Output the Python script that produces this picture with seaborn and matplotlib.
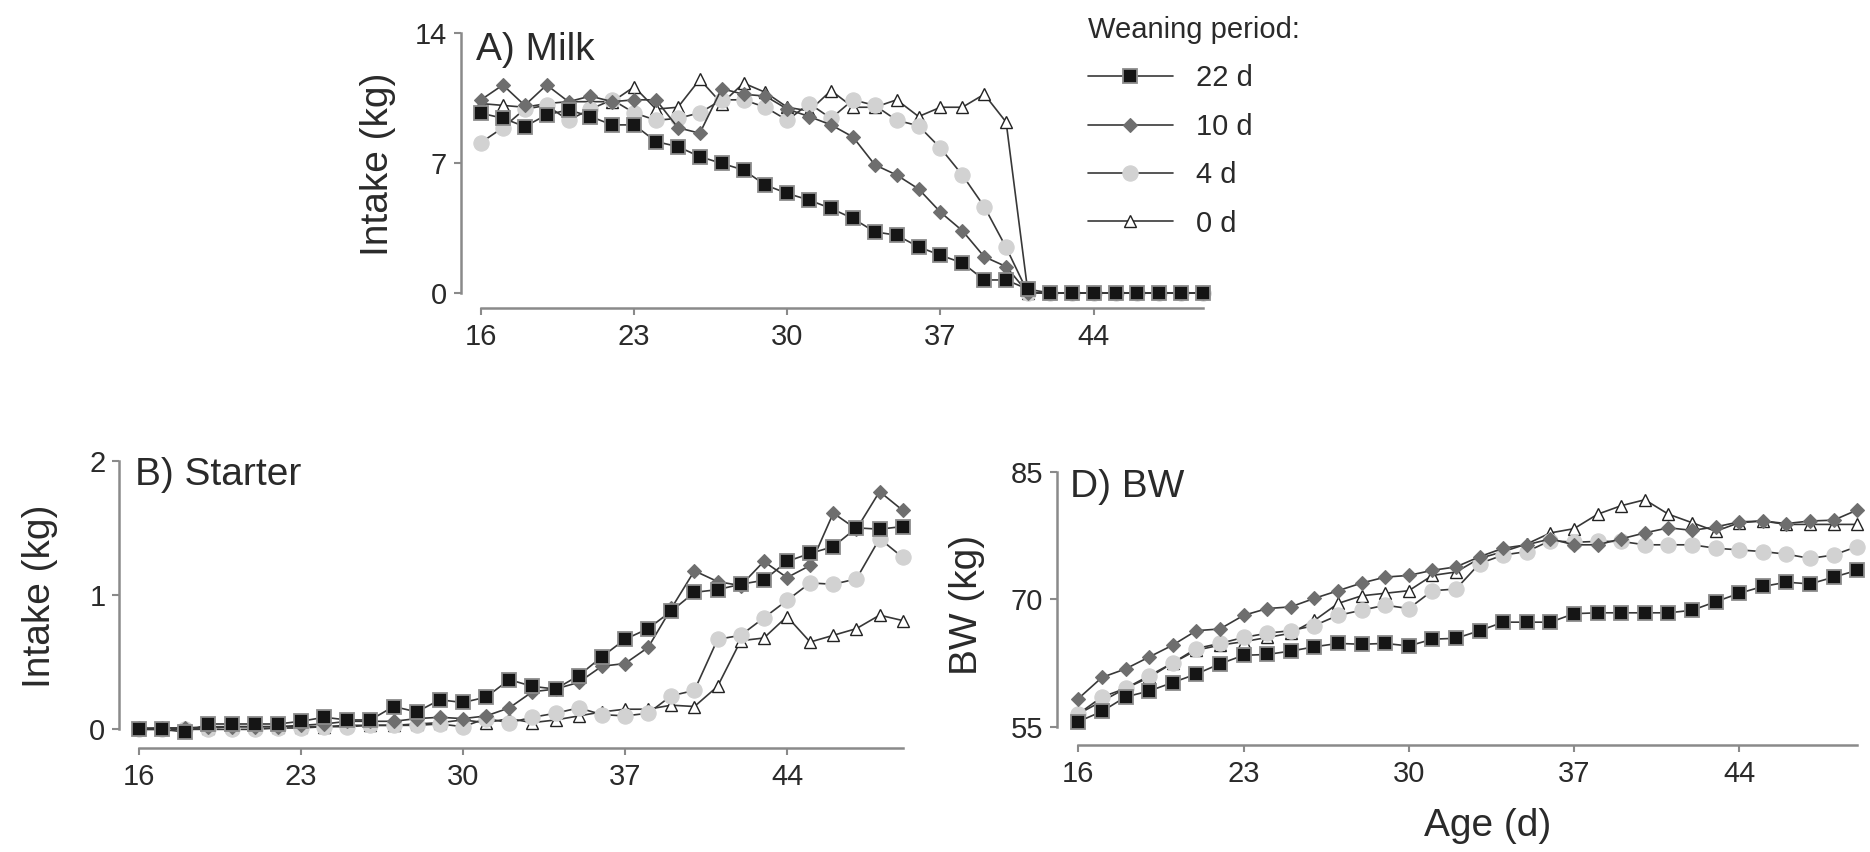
import numpy as np
import pandas as pd
import matplotlib
matplotlib.use("Agg")
import matplotlib.pyplot as plt
from matplotlib.lines import Line2D
import seaborn as sns

# ---------------- data ----------------
days = [16, 17, 18, 19, 20, 21, 22, 23, 24, 25, 26, 27, 28, 29, 30, 31, 32,
        33, 34, 35, 36, 37, 38, 39, 40, 41, 42, 43, 44, 45, 46, 47, 48, 49]
groups = ["22 d", "10 d", "4 d", "0 d"]
x_ticks = [16, 23, 30, 37, 44]

milk_22 = [9.68, 9.41, 8.96, 9.59, 9.86, 9.50, 9.05, 9.05, 8.15, 7.88, 7.34, 6.98,
           6.62, 5.81, 5.36, 5.00, 4.55, 4.01, 3.29, 3.11, 2.48, 2.03, 1.62, 0.70,
           0.70, 0.20, 0, 0, 0, 0, 0, 0, 0, 0]
milk_10 = [10.4, 11.2, 10.1, 11.2, 10.3, 10.6, 10.3, 10.4, 10.4, 8.9, 8.6, 11.0,
           10.7, 10.6, 9.9, 9.5, 9.05, 8.4, 6.9, 6.35, 5.6, 4.35, 3.35, 1.95, 1.42,
           0, 0, 0, 0, 0, 0, 0, 0, 0]
milk_4 = [8.1, 8.9, 9.9, 10.1, 9.3, 9.9, 10.4, 9.7, 9.3, 9.4, 9.7, 10.4, 10.4, 10.0,
          9.3, 10.2, 9.4, 10.4, 10.1, 9.3, 9.0, 7.8, 6.35, 4.65, 2.45,
          0, 0, 0, 0, 0, 0, 0, 0, 0]
milk_0 = [10.2, 10.1, 10.0, 10.2, 10.3, 10.3, 10.3, 11.1, 9.9, 10.0, 11.5, 10.2,
          11.3, 10.8, 10.0, 9.8, 10.9, 10.0, 10.0, 10.4, 9.5, 10.0, 10.0, 10.7, 9.2,
          0, 0, 0, 0, 0, 0, 0, 0, 0]

starter_22 = [0.0, 0.0, -0.02, 0.04, 0.04, 0.04, 0.04, 0.06, 0.09, 0.07, 0.07, 0.17,
              0.13, 0.22, 0.20, 0.24, 0.37, 0.32, 0.30, 0.40, 0.54, 0.67, 0.75, 0.88,
              1.02, 1.04, 1.08, 1.11, 1.25, 1.31, 1.36, 1.50, 1.49, 1.51]
starter_10 = [0.01, 0.01, 0.01, 0.02, 0.02, 0.02, 0.02, 0.03, 0.04, 0.06, 0.06, 0.06,
              0.08, 0.09, 0.08, 0.10, 0.16, 0.28, 0.30, 0.35, 0.47, 0.49, 0.61, 0.90,
              1.18, 1.10, 1.07, 1.25, 1.13, 1.22, 1.61, 1.49, 1.77, 1.63]
starter_4 = [0.0, 0.0, 0.0, 0.0, 0.0, 0.0, 0.01, 0.01, 0.02, 0.02, 0.03, 0.03, 0.03,
             0.04, 0.02, 0.08, 0.05, 0.09, 0.12, 0.16, 0.11, 0.10, 0.12, 0.25, 0.29,
             0.67, 0.70, 0.83, 0.96, 1.09, 1.08, 1.12, 1.42, 1.28]
starter_0 = [0.0, 0.01, 0.01, 0.01, 0.02, 0.02, 0.02, 0.02, 0.02, 0.03, 0.03, 0.03,
             0.04, 0.05, 0.07, 0.05, 0.08, 0.05, 0.07, 0.10, 0.13, 0.15, 0.15, 0.18,
             0.17, 0.32, 0.66, 0.68, 0.84, 0.65, 0.70, 0.75, 0.85, 0.81]

bw_22 = [55.6, 56.8, 58.5, 59.2, 60.2, 61.2, 62.4, 63.4, 63.5, 63.9, 64.4, 64.8,
         64.7, 64.8, 64.5, 65.3, 65.4, 66.3, 67.3, 67.3, 67.3, 68.3, 68.4, 68.4,
         68.4, 68.4, 68.7, 69.7, 70.7, 71.5, 72.0, 71.8, 72.6, 73.4]
bw_10 = [58.3, 60.8, 61.8, 63.2, 64.6, 66.3, 66.5, 68.1, 68.9, 69.1, 70.1, 71.0,
         71.9, 72.6, 72.8, 73.4, 73.8, 75.0, 76.0, 76.4, 77.1, 76.4, 76.4, 77.1,
         77.8, 78.4, 78.1, 78.5, 79.1, 79.2, 78.9, 79.2, 79.3, 80.5]
bw_4 = [56.5, 58.5, 59.5, 61.0, 62.5, 64.2, 64.8, 65.5, 66.0, 66.3, 66.9, 68.1,
        68.7, 69.3, 68.9, 71.0, 71.2, 74.2, 75.2, 75.6, 76.9, 76.7, 76.8, 76.8,
        76.4, 76.4, 76.4, 76.0, 75.8, 75.6, 75.3, 74.8, 75.2, 76.2]
bw_0 = [56.5, 58.0, 59.5, 60.8, 62.5, 64.0, 64.6, 65.0, 65.5, 66.0, 67.5, 69.5,
        70.4, 70.7, 71.0, 72.8, 73.2, 74.8, 75.6, 76.5, 77.8, 78.3, 80.0, 81.0,
        81.7, 80.0, 79.0, 78.0, 79.0, 79.2, 78.8, 78.8, 78.8, 78.8]

# ---------------- style ----------------
sns.set_theme(style="ticks")
NARROW = ["Liberation Sans Narrow", "Liberation Sans", "DejaVu Sans"]
REGULAR = ["Liberation Sans", "DejaVu Sans"]
plt.rcParams["font.family"] = NARROW

W, H = 1870, 852
fig = plt.figure(figsize=(W / 100, H / 100), dpi=100)

SPINE = "#8a8a8a"
TXT = "#2a2a2a"
LINE = "#383838"

styles = {
    "22 d": dict(marker="s", markersize=9.5, markerfacecolor="#151515",
                 markeredgecolor="#8c8c8c", markeredgewidth=1.3, zorder=5),
    "10 d": dict(marker="D", markersize=7, markerfacecolor="#6e6e6e",
                 markeredgecolor="#6e6e6e", markeredgewidth=0.8, zorder=4),
    "4 d": dict(marker="o", markersize=11, markerfacecolor="#d2d2d2",
                markeredgecolor="#d2d2d2", markeredgewidth=0.8, zorder=3),
    "0 d": dict(marker="^", markersize=9, markerfacecolor="white",
                markeredgecolor="#222222", markeredgewidth=1.0, zorder=2),
}


def px_rect(left, right, top, bottom):
    return [left / W, 1 - bottom / H, (right - left) / W, (bottom - top) / H]


def draw_panel(rect, series, xlim, ylim, yticks):
    ax = fig.add_axes(rect)
    for g in ["0 d", "4 d", "10 d", "22 d"]:
        df = pd.DataFrame({"day": days, "val": series[g]})
        sns.lineplot(data=df, x="day", y="val", ax=ax, color=LINE, linewidth=1.2,
                     legend=False, **styles[g])
    ax.set_xlim(*xlim)
    ax.set_ylim(*ylim)
    ax.set_xticks(x_ticks)
    ax.set_yticks(yticks)
    ax.set_xticklabels([str(t) for t in x_ticks])
    ax.set_yticklabels([str(t) for t in yticks])
    ax.set_xlabel("")
    ax.set_ylabel("")
    for s in ["top", "right"]:
        ax.spines[s].set_visible(False)
    ax.spines["left"].set_bounds(yticks[0], yticks[-1])
    ax.spines["bottom"].set_bounds(days[0], days[-1])
    for s in ["left", "bottom"]:
        ax.spines[s].set_color(SPINE)
        ax.spines[s].set_linewidth(1.8)
    ax.tick_params(axis="both", colors=SPINE, width=1.5, length=5,
                   labelcolor=TXT, labelsize=21)
    ax.tick_params(axis="x", pad=6)
    ax.tick_params(axis="y", pad=5)
    ax.patch.set_alpha(0)
    return ax


axA = draw_panel(px_rect(461, 1214, 27.4, 308),
                 {"22 d": milk_22, "10 d": milk_10, "4 d": milk_4, "0 d": milk_0},
                 (15.087, 49.5), (-0.81, 14.3), [0, 7, 14])
axB = draw_panel(px_rect(119.3, 914.3, 455.3, 747.5),
                 {"22 d": starter_22, "10 d": starter_10, "4 d": starter_4, "0 d": starter_0},
                 (15.15, 49.5), (-0.135, 2.04), [0, 1, 2])
axD = draw_panel(px_rect(1056.7, 1869.1, 466.6, 745),
                 {"22 d": bw_22, "10 d": bw_10, "4 d": bw_4, "0 d": bw_0},
                 (15.085, 49.5), (52.85, 85.6), [55, 70, 85])


def ftext(x, y, s, **kw):
    fig.text(x / W, 1 - y / H, s, color=TXT, **kw)


# panel titles
ftext(476, 50, "A) Milk", fontsize=28, ha="left", va="center")
ftext(135, 475, "B) Starter", fontsize=28, ha="left", va="center")
ftext(1070, 487, "D) BW", fontsize=28, ha="left", va="center")

# axis labels
ftext(378, 164, "Intake (kg)", fontsize=28, rotation=90, ha="center", va="center",
      family=REGULAR)
ftext(40, 596, "Intake (kg)", fontsize=28, rotation=90, ha="center", va="center",
      family=REGULAR)
ftext(967, 605, "BW (kg)", fontsize=28, rotation=90, ha="center", va="center",
      family=REGULAR)
ftext(1488, 826, "Age (d)", fontsize=28, ha="center", va="center")

# legend
handles = [Line2D([0], [0], color=LINE, linewidth=1.2,
                  **{k: v for k, v in styles[g].items() if k != "zorder"})
           for g in groups]
leg = fig.legend(handles, groups, loc="upper left",
                 bbox_to_anchor=(1088 / W, 1 - 16 / H), frameon=False,
                 title="Weaning period:", alignment="left",
                 fontsize=21, title_fontsize=21, handlelength=2.9,
                 handletextpad=0.8, labelspacing=0.7, borderpad=0,
                 borderaxespad=0)
for t in leg.get_texts():
    t.set_color(TXT)
leg.get_title().set_color(TXT)

fig.savefig("out.png", dpi=100)
